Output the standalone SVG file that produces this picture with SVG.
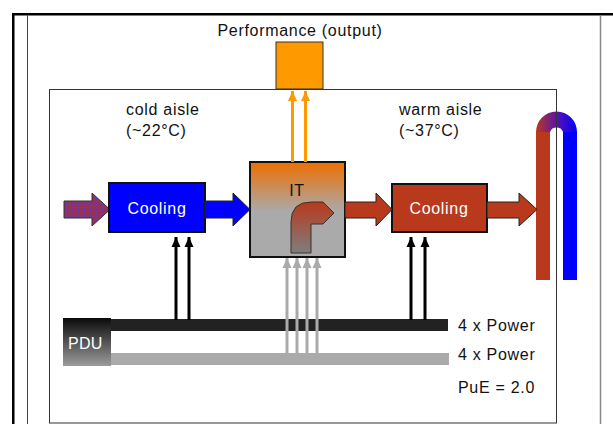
<svg xmlns="http://www.w3.org/2000/svg" width="613" height="424" viewBox="0 0 613 424">
<defs>
<style>
.t{font-family:"Liberation Sans",Arial,sans-serif;font-size:16px;fill:#111;letter-spacing:0.7px}
.w{fill:#fff}
.box{stroke:#111;stroke-width:2}
.fat{stroke:#222;stroke-width:1}
.blk{stroke:#000;stroke-width:3;fill:none}
.gry{stroke:#aaa;stroke-width:3;fill:none}
.org{stroke:#FF9900;stroke-width:3;fill:none}
</style>
<marker id="mB" markerWidth="10" markerHeight="10" refX="10" refY="5" orient="auto" markerUnits="userSpaceOnUse"><path d="M0,0.5 L10,5 L0,9.5 z" fill="#000"/></marker>
<marker id="mG" markerWidth="10" markerHeight="10" refX="10" refY="5" orient="auto" markerUnits="userSpaceOnUse"><path d="M0,0.5 L10,5 L0,9.5 z" fill="#aaa"/></marker>
<marker id="mO" markerWidth="10" markerHeight="10" refX="10" refY="5" orient="auto" markerUnits="userSpaceOnUse"><path d="M0,0.5 L10,5 L0,9.5 z" fill="#FF9900"/></marker>
<linearGradient id="gIT" x1="0" y1="0" x2="0" y2="1">
<stop offset="0" stop-color="#EE6E00"/><stop offset="0.52" stop-color="#AAAAAA"/><stop offset="1" stop-color="#AAAAAA"/>
</linearGradient>
<linearGradient id="gBent" x1="0" y1="0" x2="0" y2="1">
<stop offset="0" stop-color="#B8391C"/><stop offset="1" stop-color="#7E7E7E"/>
</linearGradient>
<linearGradient id="gPDU" x1="0" y1="0" x2="0" y2="1">
<stop offset="0" stop-color="#0A0A0A"/><stop offset="1" stop-color="#9C9C9C"/>
</linearGradient>
<linearGradient id="gArc" x1="536" y1="0" x2="577" y2="0" gradientUnits="userSpaceOnUse">
<stop offset="0" stop-color="#B8391C"/><stop offset="0.5" stop-color="#5A12B0"/><stop offset="1" stop-color="#0000FF"/>
</linearGradient>
<pattern id="pIn" width="3" height="3" patternUnits="userSpaceOnUse">
<rect width="3" height="3" fill="#8E2F5E"/><rect width="1.5" height="1.5" fill="#6A3CB0"/><rect x="1.5" y="1.5" width="1.5" height="1.5" fill="#A03048"/>
</pattern>
</defs>
<rect width="613" height="424" fill="#fff"/>

<g id="frame">
<rect x="12" y="13" width="601" height="2.5" fill="#000"/>
<rect x="12" y="13" width="2.5" height="411" fill="#000"/>
<line x1="27.5" y1="15" x2="27.5" y2="424" stroke="#444" stroke-width="1"/>
<line x1="600.5" y1="15" x2="600.5" y2="424" stroke="#888" stroke-width="1.5"/>
</g>

<g id="tube">
<rect x="536" y="132" width="14" height="148" fill="#B8391C"/>
<rect x="563" y="132" width="14" height="148" fill="#0000FF"/>
<path d="M536,132 A20.5,20.5 0 0 1 577,132 L563,132 A7,7 0 0 0 550,132 Z" fill="url(#gArc)"/>
</g>

<g id="room">
<rect x="49.5" y="89.5" width="507" height="333.5" fill="none" stroke="#333" stroke-width="1"/>
</g>

<g id="labels">
<text class="t" x="300" y="36" text-anchor="middle">Performance (output)</text>
<text class="t" x="126" y="115">cold aisle</text>
<text class="t" x="126" y="136">(~22°C)</text>
<text class="t" x="399" y="115">warm aisle</text>
<text class="t" x="399" y="136">(~37°C)</text>
<text class="t" x="458" y="331">4 x Power</text>
<text class="t" x="458" y="360">4 x Power</text>
<text class="t" x="458" y="393">PuE = 2.0</text>
</g>

<g id="performance">
<rect x="276" y="42" width="47" height="47" fill="#FF9900" stroke="#333" stroke-width="1"/>
</g>

<g id="power-bars">
<rect x="111" y="319" width="337" height="12" fill="#222"/>
<rect x="111" y="353" width="338" height="12" fill="#AAAAAA"/>
</g>

<g id="pdu">
<rect x="63" y="318" width="48" height="48" fill="url(#gPDU)"/>
<text class="t w" x="68" y="349" style="letter-spacing:0.3px">PDU</text>
</g>

<g id="inlet">
<path d="M64,201 L92,201 L92,193 L110,209.5 L92,226 L92,218 L64,218 Z" fill="url(#pIn)" stroke="#333" stroke-width="1"/>
</g>

<g id="cooling-cold">
<rect class="box" x="109" y="183" width="96" height="49" fill="#0000FF"/>
<text class="t w" x="157" y="214" text-anchor="middle">Cooling</text>
</g>

<g id="it">
<rect class="box" x="250" y="162" width="95" height="95" fill="url(#gIT)"/>
<text class="t" x="297" y="196" text-anchor="middle">IT</text>
<path d="M291,253 L291,222 Q291,202 311,202 L323,202 L334,213 L323,224 L311,224 L311,253 Z" fill="url(#gBent)" stroke="#333" stroke-width="1"/>
</g>

<g id="cooling-warm">
<rect class="box" x="392" y="184" width="95" height="48" fill="#B8391C"/>
<text class="t w" x="439" y="214" text-anchor="middle">Cooling</text>
</g>

<g id="connectors">
<path class="fat" d="M205,201 L233,201 L233,193 L250,209.5 L233,226 L233,218 L205,218 Z" fill="#0000FF"/>
<path class="fat" d="M345,202 L376,202 L376,193 L392,209.5 L376,226 L376,218 L345,218 Z" fill="#B8391C"/>
<path class="fat" d="M487,202 L519,202 L519,193 L537,209.5 L519,226 L519,218 L487,218 Z" fill="#B8391C"/>
<line class="org" x1="292.5" y1="162" x2="292.5" y2="91" marker-end="url(#mO)"/>
<line class="org" x1="305.5" y1="162" x2="305.5" y2="91" marker-end="url(#mO)"/>
<line class="blk" x1="176" y1="320" x2="176" y2="237" marker-end="url(#mB)"/>
<line class="blk" x1="189" y1="320" x2="189" y2="237" marker-end="url(#mB)"/>
<line class="blk" x1="411" y1="320" x2="411" y2="237" marker-end="url(#mB)"/>
<line class="blk" x1="425" y1="320" x2="425" y2="237" marker-end="url(#mB)"/>
<line class="gry" x1="287" y1="354" x2="287" y2="258" marker-end="url(#mG)"/>
<line class="gry" x1="297" y1="354" x2="297" y2="258" marker-end="url(#mG)"/>
<line class="gry" x1="307" y1="354" x2="307" y2="258" marker-end="url(#mG)"/>
<line class="gry" x1="317" y1="354" x2="317" y2="258" marker-end="url(#mG)"/>
</g>
</svg>
